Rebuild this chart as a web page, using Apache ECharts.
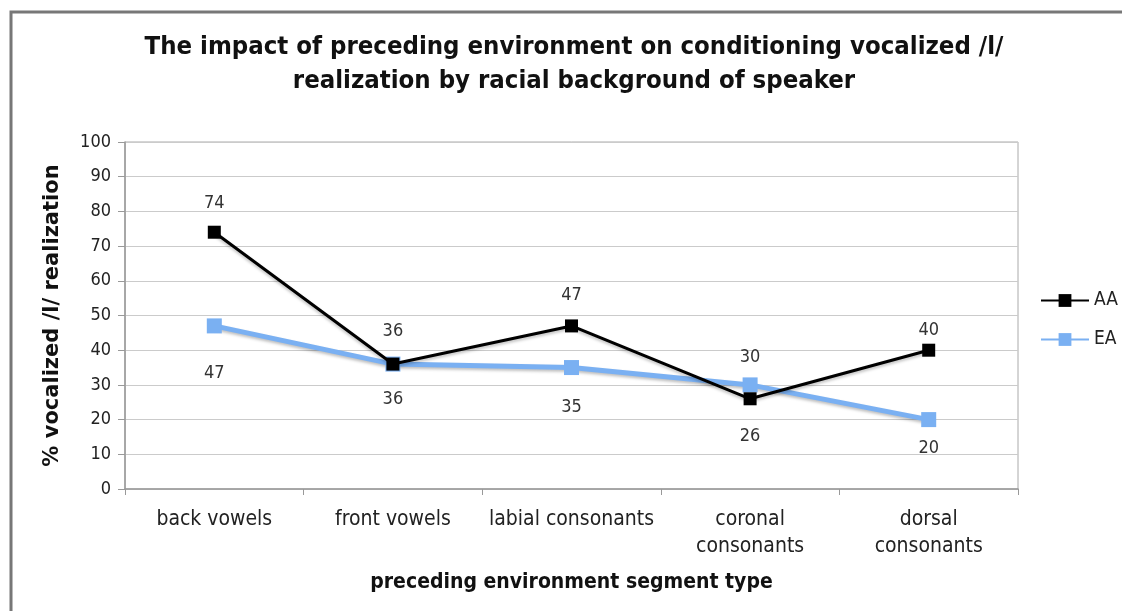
<!DOCTYPE html>
<html>
<head>
<meta charset="utf-8">
<title>Preceding environment and vocalized /l/</title>
<script src="https://cdn.jsdelivr.net/npm/echarts@6/dist/echarts.min.js"></script>
<style>
  html, body { margin: 0; padding: 0; background: #fff; }
  #chart { width: 1122px; height: 611px; }
</style>
</head>
<body>
<div id="chart"></div>
<script>
// Segment types on the x axis
const categories = ['back vowels', 'front vowels', 'labial consonants', 'coronal\nconsonants', 'dorsal\nconsonants'];
// % vocalized /l/ by speaker group
const aaValues = [74, 36, 47, 26, 40];
const eaValues = [47, 36, 35, 30, 20];
const yTicks = [0, 10, 20, 30, 40, 50, 60, 70, 80, 90, 100];

// Where each value label sits relative to its marker
const aaLabelPlace = [['top', 13], ['top', 17], ['top', 15], ['bottom', 22], ['top', 4]];
const eaLabelPlace = [['bottom', 31], ['bottom', 19], ['bottom', 23], ['top', 11], ['bottom', 12]];

const FONT = 'DejaVu Sans Condensed';
const FONT_WIDE = 'DejaVu Sans';

function withLabels(values, places) {
  return values.map((v, i) => ({
    value: v,
    label: { position: places[i][0], distance: places[i][1] }
  }));
}

const chart = echarts.init(document.getElementById('chart'));
chart.setOption({
  animation: false,
  backgroundColor: '#fff',
  textStyle: { fontFamily: FONT },
  title: {
    text: 'The impact of preceding environment on conditioning vocalized /l/\nrealization by racial background of speaker',
    left: 569,
    textAlign: 'center',
    top: 25,
    textStyle: { fontFamily: FONT, fontWeight: 'bold', fontSize: 25.5, lineHeight: 34, color: '#111' }
  },
  graphic: [{
    type: 'rect',
    shape: { x: 11, y: 12, width: 1140, height: 640 },
    style: { fill: 'none', stroke: '#777', lineWidth: 3 },
    silent: true
  }],
  legend: {
    orient: 'vertical',
    left: 1035,
    top: 286,
    itemWidth: 48,
    itemHeight: 16,
    itemGap: 20,
    textStyle: { fontFamily: FONT, fontSize: 19, color: '#222' },
    data: ['AA', 'EA']
  },
  grid: {
    left: 125, right: 104, top: 142, bottom: 122,
    show: true, borderColor: '#aaa', borderWidth: 1
  },
  xAxis: {
    type: 'category',
    data: categories,
    boundaryGap: true,
    name: 'preceding environment segment type',
    nameLocation: 'middle',
    nameGap: 83,
    nameTextStyle: { fontFamily: FONT, fontWeight: 'bold', fontSize: 21, color: '#111' },
    axisLine: { lineStyle: { color: '#999', width: 1.5 } },
    axisTick: { show: true, length: 6, alignWithLabel: false, lineStyle: { color: '#999' } },
    axisLabel: { fontFamily: FONT, fontSize: 21, color: '#222', lineHeight: 27, margin: 17, interval: 0 }
  },
  yAxis: {
    type: 'value',
    min: yTicks[0],
    max: yTicks[yTicks.length - 1],
    interval: yTicks[1] - yTicks[0],
    name: '% vocalized /l/ realization',
    nameLocation: 'middle',
    nameGap: 62,
    nameTextStyle: { fontFamily: FONT_WIDE, fontWeight: 'bold', fontSize: 21, color: '#111' },
    axisLine: { show: true, lineStyle: { color: '#999', width: 1.5 } },
    axisTick: { show: true, length: 7, lineStyle: { color: '#999' } },
    axisLabel: { fontFamily: FONT, fontSize: 18, color: '#222', margin: 14 },
    splitLine: { lineStyle: { color: '#cbcbcb', width: 1.2 } }
  },
  series: [
    {
      name: 'AA',
      type: 'line',
      data: withLabels(aaValues, aaLabelPlace),
      symbol: 'rect',
      symbolSize: 13,
      itemStyle: { color: '#000' },
      lineStyle: { color: '#000', width: 3, shadowColor: 'rgba(0,0,0,0.25)', shadowBlur: 3, shadowOffsetY: 2 },
      label: { show: true, fontFamily: FONT, fontSize: 18, color: '#333' },
      z: 3
    },
    {
      name: 'EA',
      type: 'line',
      data: withLabels(eaValues, eaLabelPlace),
      symbol: 'rect',
      symbolSize: 15,
      itemStyle: { color: '#7ab0f2' },
      lineStyle: { color: '#7ab0f2', width: 5, shadowColor: 'rgba(0,0,0,0.25)', shadowBlur: 3, shadowOffsetY: 2 },
      label: { show: true, fontFamily: FONT, fontSize: 18, color: '#333' },
      z: 2
    }
  ]
});
</script>
</body>
</html>
